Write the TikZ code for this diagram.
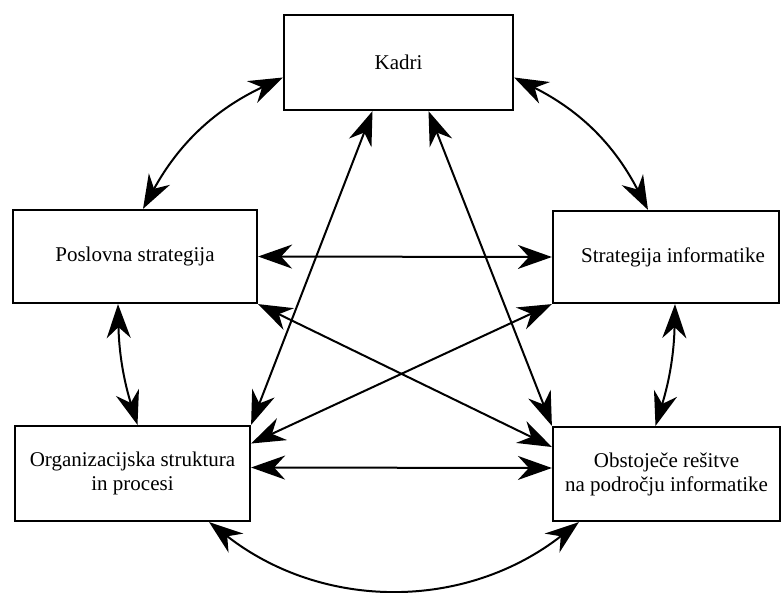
\documentclass[tikz,border=0pt]{standalone}
\usepackage{fontspec}
\setmainfont{Liberation Serif}
\usepackage{tikz}
\usetikzlibrary{arrows.meta,calc,positioning}

\tikzset{
  blok/.style={draw=black, line width=2.2pt, fill=white, align=center,
    font=\fontsize{21}{24}\selectfont},
  vez/.style={line width=2pt, {Stealth[length=34pt,width=24pt,inset=11pt]}-{Stealth[length=34pt,width=24pt,inset=11pt]}}
}

\begin{document}
\begin{tikzpicture}[x=1pt,y=-1pt]
  \useasboundingbox (0,0) rectangle (782,592);
  % Draw the boxes
  \node[blok, minimum width=229pt, minimum height=95pt] (kadri) at (398.5,62.5) {Kadri};
  \node[blok, minimum width=244pt, minimum height=93pt] (posl) at (135,256.5) {Poslovna strategija};
  \node[blok, minimum width=226pt, minimum height=92pt] (strat) at (666,257) {\hspace*{14pt}Strategija informatike};
  \node[blok, minimum width=235pt, minimum height=95pt] (org) at (132.5,473.5) {Organizacijska struktura\\in procesi};
  \node[blok, minimum width=227pt, minimum height=94pt] (obst) at (666.5,474) {Obstoječe rešitve\\na področju informatike};
  % outer ring
  \draw[vez] ([yshift=-15pt]kadri.west) to[bend right=18] ([xshift=8pt]posl.north);
  \draw[vez] ([yshift=-15pt]kadri.east) to[bend left=18] ([xshift=-18pt]strat.north);
  \draw[vez] ([xshift=-17pt]posl.south) to[bend right=8] ([xshift=5pt]org.north);
  \draw[vez] ([xshift=9pt]strat.south) to[bend left=8] ([xshift=-11pt]obst.north);
  \draw[vez] ([xshift=-42pt]org.south east) to[bend right=38] ([xshift=27pt]obst.south west);
  % horizontal
  \draw[vez] (posl.east) -- (strat.west);
  \draw[vez] ([yshift=6pt]org.east) -- ([yshift=6pt]obst.west);
  % diagonals
  \draw[vez] ([xshift=-26pt]kadri.south) -- (org.north east);
  \draw[vez] ([xshift=30pt]kadri.south) -- (obst.north west);
  \draw[vez] (posl.south east) -- ([yshift=27pt]obst.west);
  \draw[vez] (strat.south west) -- ([yshift=30pt]org.east);
\end{tikzpicture}
\end{document}
